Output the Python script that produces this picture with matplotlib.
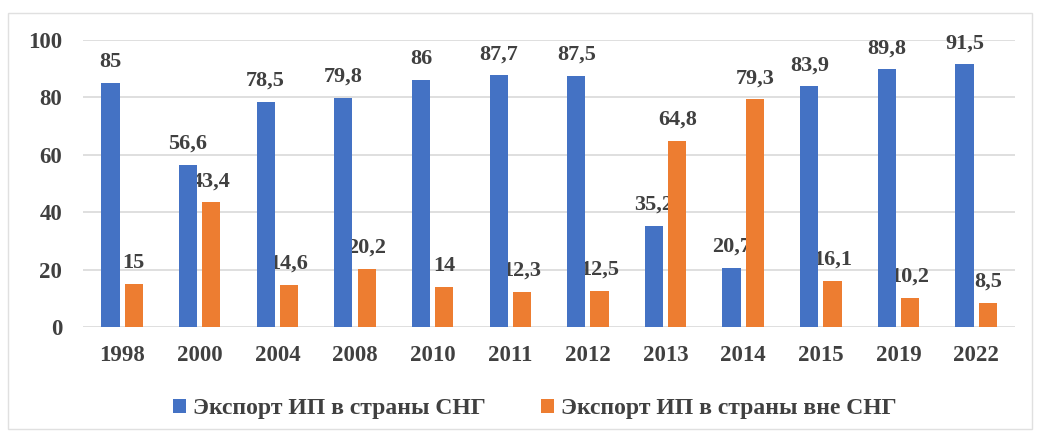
import numpy as np
import matplotlib.pyplot as plt
from matplotlib.patches import Rectangle

years = ["1998", "2000", "2004", "2008", "2010", "2011", "2012",
         "2013", "2014", "2015", "2019", "2022"]
cis_export = [85, 56.6, 78.5, 79.8, 86, 87.7, 87.5, 35.2, 20.7, 83.9, 89.8, 91.5]
non_cis_export = [15, 43.4, 14.6, 20.2, 14, 12.3, 12.5, 64.8, 79.3, 16.1, 10.2, 8.5]
series_names = ["Экспорт ИП в страны СНГ", "Экспорт ИП в страны вне СНГ"]


def fmt(v):
    return ("%g" % v).replace(".", ",")


def plot_export():
    plt.rcParams["font.family"] = ["Liberation Serif", "DejaVu Serif"]
    plt.rcParams["font.weight"] = "bold"
    text_color = "#404040"

    fig = plt.figure(figsize=(10.4, 4.36), dpi=100)
    ax = fig.add_axes([0.08, 0.25, 0.896, 0.658])

    x = np.arange(len(years))
    w = 0.235
    off = 0.15
    b1 = ax.bar(x - off, cis_export, w, color="#4472C4", zorder=3,
                label=series_names[0])
    b2 = ax.bar(x + off, non_cis_export, w, color="#ED7D31", zorder=3,
                label=series_names[1])

    for bars, vals in ((b1, cis_export), (b2, non_cis_export)):
        for r, v in zip(bars, vals):
            ax.annotate(fmt(v), (r.get_x() + r.get_width() / 2, v),
                        xytext=(0, 8), textcoords="offset points",
                        ha="center", va="bottom", fontsize=16,
                        fontweight="bold", color=text_color, zorder=2)

    ax.set_xlim(-0.5, len(years) - 0.5)
    ax.set_ylim(0, 100)
    ax.set_yticks(range(0, 101, 20))
    ax.set_xticks(x)
    ax.set_xticklabels(years)
    ax.tick_params(axis="both", length=0, labelsize=16.5, colors=text_color)
    ax.tick_params(axis="x", pad=13)
    ax.tick_params(axis="y", pad=15)
    for lab in ax.get_xticklabels() + ax.get_yticklabels():
        lab.set_fontweight("bold")
    ax.grid(axis="y", color="#D9D9D9", linewidth=1.2, zorder=0)
    for s in ax.spines.values():
        s.set_visible(False)

    leg = fig.legend(loc="center", bbox_to_anchor=(0.514, 0.062), ncol=2,
                     frameon=False, handlelength=0.55,
                     handleheight=0.55, handletextpad=0.3, columnspacing=2.35,
                     prop={"weight": "bold", "size": 17})
    for t in leg.get_texts():
        t.set_color(text_color)

    fig.patches.append(Rectangle((0.008, 0.015), 0.984, 0.955,
                                 transform=fig.transFigure, fill=False,
                                 edgecolor="#E0E0E0", linewidth=1))
    fig.savefig("out.png")


if __name__ == "__main__":
    plot_export()
